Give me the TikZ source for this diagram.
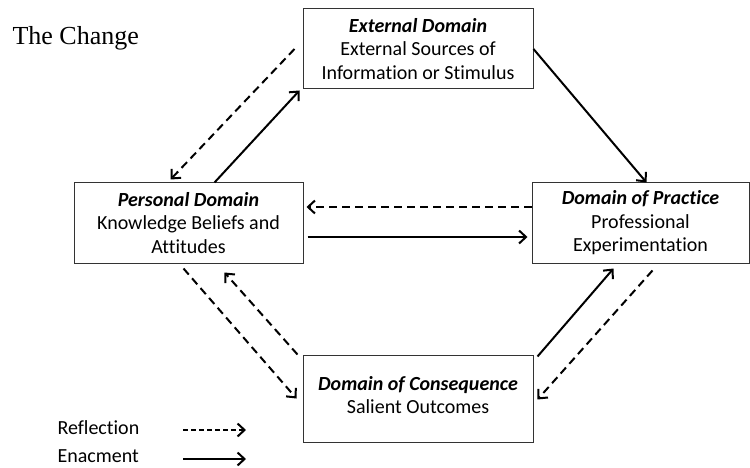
\documentclass[tikz,border=0pt]{standalone}
\usepackage{fontspec}
\setmainfont{Carlito}[Ligatures={NoCommon,NoRequired,NoContextual}]
\newfontfamily\titlefont{Liberation Serif}
\usetikzlibrary{arrows.meta, positioning, calc}

\tikzset{
    domainbox/.style={draw=black!80, line width=1pt, fill=white, align=center,
        font=\fontsize{20}{23.5}\selectfont},
    enact/.style={line width=2pt, -{Straight Barb[length=7pt,width=13pt,line width=2pt]}},
    reflect/.style={enact, dash pattern=on 8pt off 5pt},
    legendtext/.style={anchor=west, font=\fontsize{20}{24}\selectfont}
}

\begin{document}
\begin{tikzpicture}[x=1pt,y=-1pt]
\useasboundingbox (0,0) rectangle (750,468);

\node[anchor=west, font=\titlefont\fontsize{26}{30}\selectfont] (title) at (9,38) {The Change};

% the four domains
\node[domainbox, minimum width=230pt, minimum height=80pt] (ext) at (418,49)
    {\textbf{\textit{External Domain}}\\External Sources of\\Information or Stimulus};
\node[domainbox, minimum width=229pt, minimum height=80pt] (pers) at (188.5,223)
    {\textbf{\textit{Personal Domain}}\\Knowledge Beliefs and\\Attitudes};
\node[domainbox, minimum width=217pt, minimum height=80pt] (prac) at (640.5,223)
    {\textbf{\textit{Domain of Practice}}\\Professional\\Experimentation};
\node[domainbox, minimum width=230pt, minimum height=87pt] (cons) at (418,398.5)
    {\textbf{\textit{Domain of Consequence}}\\Salient Outcomes\\[-16pt]};

% enactment
\draw[enact] (ext.east) -- ([xshift=6pt]prac.north);
\draw[enact] ([xshift=26pt]pers.north) -- ([xshift=-3pt,yshift=-1pt]ext.south west);
\draw[enact] ([xshift=4pt,yshift=-14pt]pers.east) -- ([xshift=-4pt,yshift=-14pt]prac.west);
\draw[enact] ([xshift=4pt,yshift=-2pt]cons.north east) -- ([xshift=-27pt,yshift=-5pt]prac.south);

% reflection
\draw[reflect] ([xshift=-8pt]ext.west) -- ([xshift=-18pt,yshift=3pt]pers.north);
\draw[reflect] ([yshift=16pt]prac.west) -- ([xshift=3pt,yshift=16pt]pers.east);
\draw[reflect] ([xshift=-5pt,yshift=-5pt]pers.south) -- ([xshift=-6pt]cons.west);
\draw[reflect] ([xshift=-5pt]cons.north west) -- ([xshift=36pt,yshift=-9pt]pers.south);
\draw[reflect] ([xshift=12pt,yshift=-7pt]prac.south) -- ([xshift=4pt,yshift=-1pt]cons.east);

% legend
\node[legendtext] (lrefl) at (54,428) {Reflection};
\node[legendtext] (lenact) at (54,456) {Enacment};
\coordinate (r1) at (183,430);
\coordinate (r2) at (246,430);
\coordinate (e1) at (183,459);
\coordinate (e2) at (246,459);
\draw[enact, dash pattern=on 5pt off 3pt] (r1) -- (r2);
\draw[enact] (e1) -- (e2);
\end{tikzpicture}
\end{document}
